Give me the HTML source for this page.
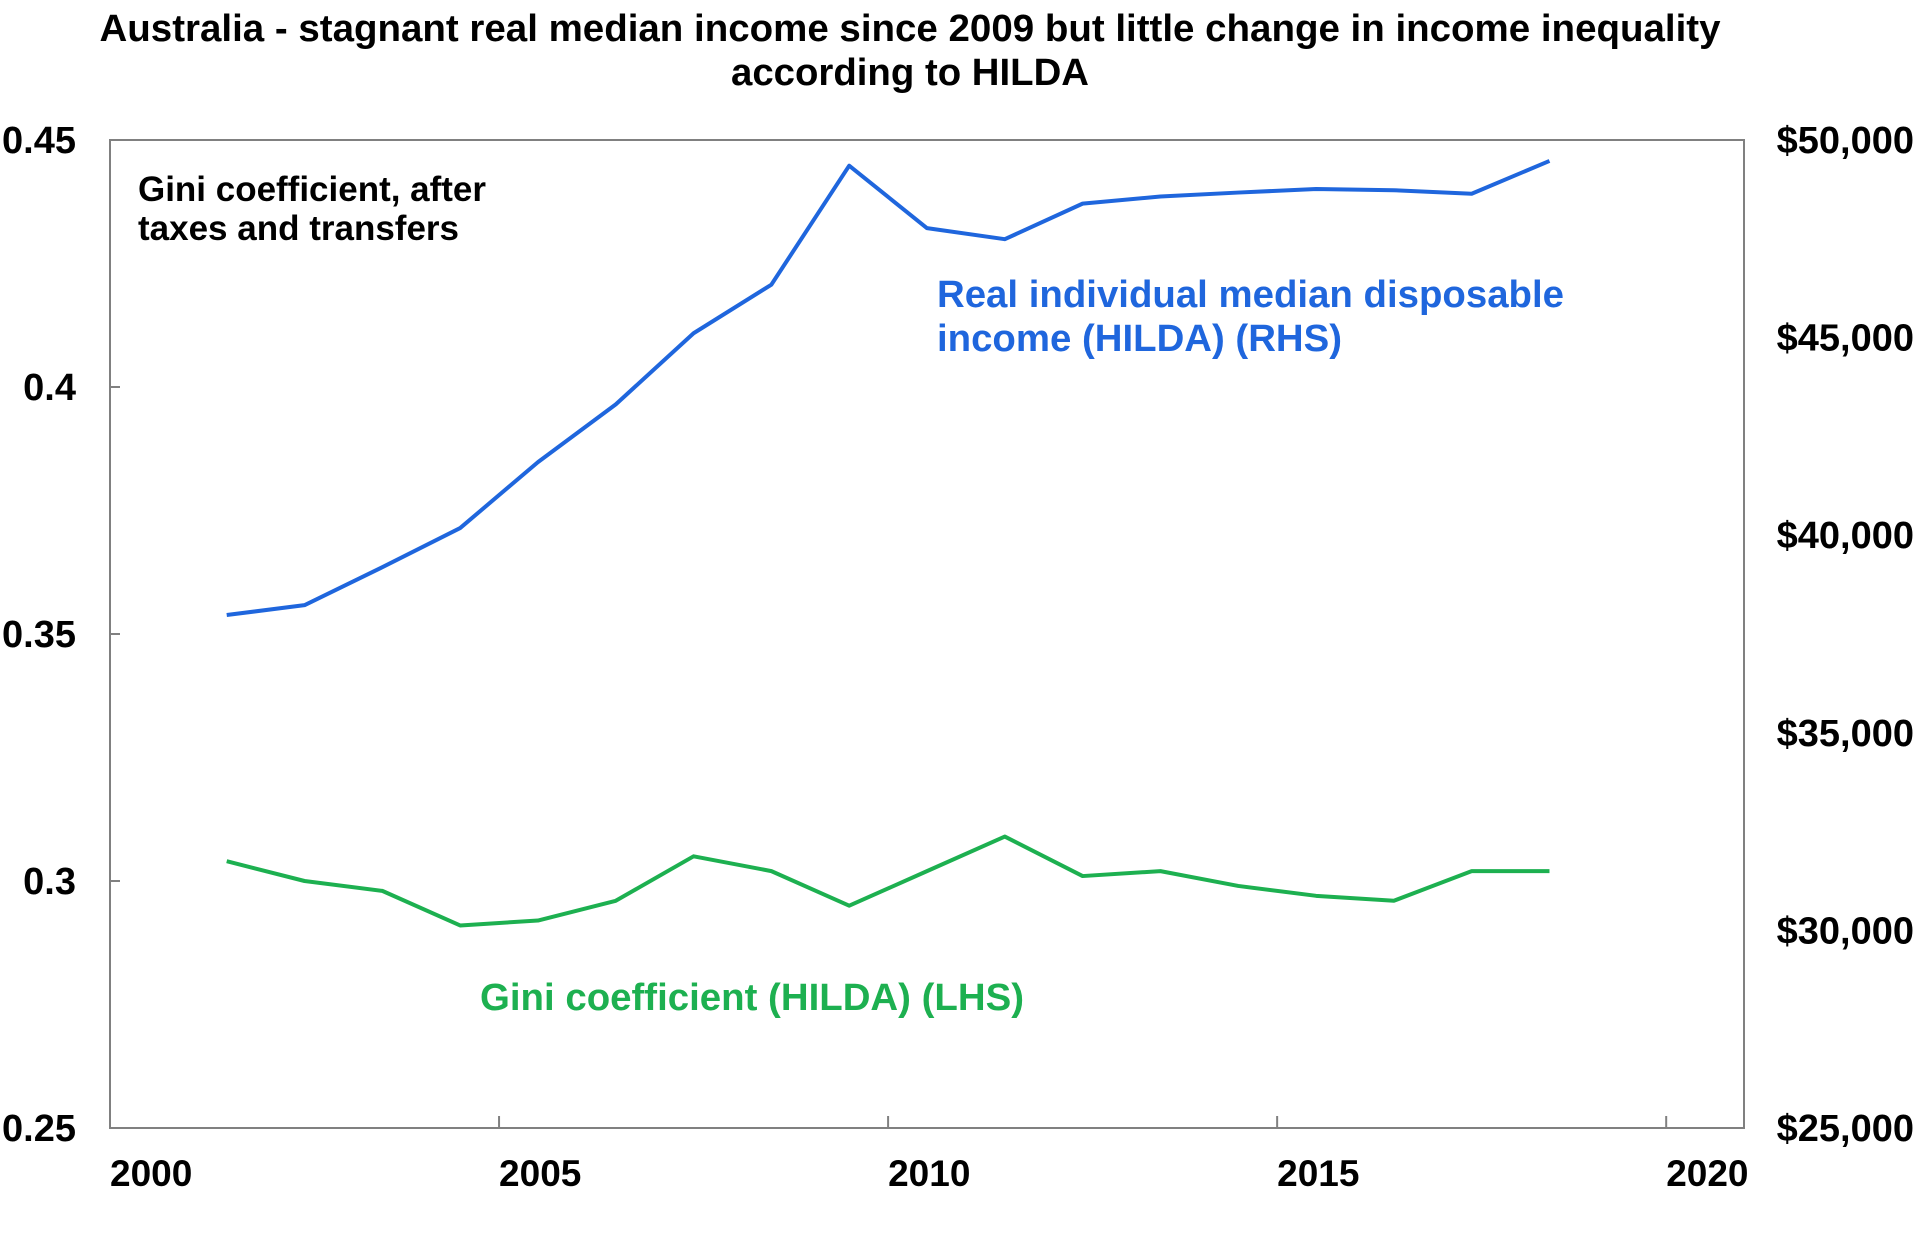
<!DOCTYPE html>
<html><head><meta charset="utf-8"><style>
html,body{margin:0;padding:0;background:#fff;}
svg{display:block;font-family:"Liberation Sans",Arial,sans-serif;font-weight:bold;}
</style></head><body>
<svg id="chart" width="1920" height="1248" viewBox="0 0 1920 1248" xmlns="http://www.w3.org/2000/svg">
<text x="910" y="41" text-anchor="middle" font-size="38" textLength="1621" lengthAdjust="spacingAndGlyphs" fill="#000">Australia - stagnant real median income since 2009 but little change in income inequality</text>
<text x="910" y="85" text-anchor="middle" font-size="38" textLength="358" lengthAdjust="spacingAndGlyphs" fill="#000">according to HILDA</text>
<rect x="110" y="140" width="1634" height="988" fill="none" stroke="#808080" stroke-width="2"/>
<g id="ticks"></g>
<g id="series"></g>
<text x="138" y="201" font-size="35" textLength="348" lengthAdjust="spacingAndGlyphs" fill="#000">Gini coefficient, after</text>
<text x="138" y="240" font-size="35" textLength="321" lengthAdjust="spacingAndGlyphs" fill="#000">taxes and transfers</text>
<text x="937" y="307" font-size="38" textLength="627" lengthAdjust="spacingAndGlyphs" fill="#1f66dd">Real individual median disposable</text>
<text x="937" y="351" font-size="38" textLength="405" lengthAdjust="spacingAndGlyphs" fill="#1f66dd">income (HILDA) (RHS)</text>
<text x="480" y="1010" font-size="38" textLength="544" lengthAdjust="spacingAndGlyphs" fill="#1db050">Gini coefficient (HILDA) (LHS)</text>
</svg>
<script>
const years = [2001,2002,2003,2004,2005,2006,2007,2008,2009,2010,2011,2012,2013,2014,2015,2016,2017,2018];
const income = [37980,38230,39190,40180,41850,43310,45110,46340,49350,47770,47490,48390,48570,48670,48760,48730,48640,49470];
const gini = [0.304,0.300,0.298,0.291,0.292,0.296,0.305,0.302,0.295,0.302,0.309,0.301,0.302,0.299,0.297,0.296,0.302,0.302];
const leftTicks = [0.25,0.3,0.35,0.4,0.45];
const leftTickLabels = ["0.25","0.3","0.35","0.4","0.45"];
const rightTicks = [25000,30000,35000,40000,45000,50000];
const rightTickLabels = ["$25,000","$30,000","$35,000","$40,000","$45,000","$50,000"];
const xTicks = [2000,2005,2010,2015,2020];
const xTickLabels = ["2000","2005","2010","2015","2020"];

const X0=110, X1=1744, Y0=140, Y1=1128;
const xS = v => X0 + (v-2000)/21*(X1-X0);
const yL = v => Y1 - (v-0.25)/0.2*(Y1-Y0);
const yR = v => Y1 - (v-25000)/25000*(Y1-Y0);
const NS="http://www.w3.org/2000/svg";
const tg=document.getElementById('ticks'), sg=document.getElementById('series');
function mk(tag,attrs,parent){const e=document.createElementNS(NS,tag);for(const k in attrs)e.setAttribute(k,attrs[k]);parent.appendChild(e);return e;}

leftTicks.forEach((t,i)=>{
  const y=yL(t);
  const l=mk('line',{x1:X0,x2:X0+10,y1:y,y2:y,stroke:'#808080','stroke-width':2},tg);
  
  
  const tx=mk('text',{x:76,y:y+13,'text-anchor':'end','font-size':38,fill:'#000'},tg);
  tx.textContent=leftTickLabels[i];
  
  
});
rightTicks.forEach((t,i)=>{
  const y=yR(t);
  const tx=mk('text',{x:1914,y:y+13,'text-anchor':'end','font-size':38,fill:'#000'},tg);
  tx.textContent=rightTickLabels[i];
  
  
});
xTicks.forEach((t,i)=>{
  const x=xS(t);
  const l=mk('line',{x1:x,x2:x,y1:Y1,y2:Y1-12,stroke:'#808080','stroke-width':2},tg);
  
  
  const tx=mk('text',{x:x,y:1186,'font-size':37,fill:'#000'},tg);
  tx.textContent=xTickLabels[i];
  
  
});
const incPts=years.map((yr,i)=>xS(yr+0.5)+','+yR(income[i])).join(' ');
const p1=mk('polyline',{points:incPts,fill:'none',stroke:'#1f66dd','stroke-width':4,'stroke-linejoin':'round'},sg);


const giniPts=years.map((yr,i)=>xS(yr+0.5)+','+yL(gini[i])).join(' ');
const p2=mk('polyline',{points:giniPts,fill:'none',stroke:'#1db050','stroke-width':4,'stroke-linejoin':'round'},sg);


</script>
</body></html>
